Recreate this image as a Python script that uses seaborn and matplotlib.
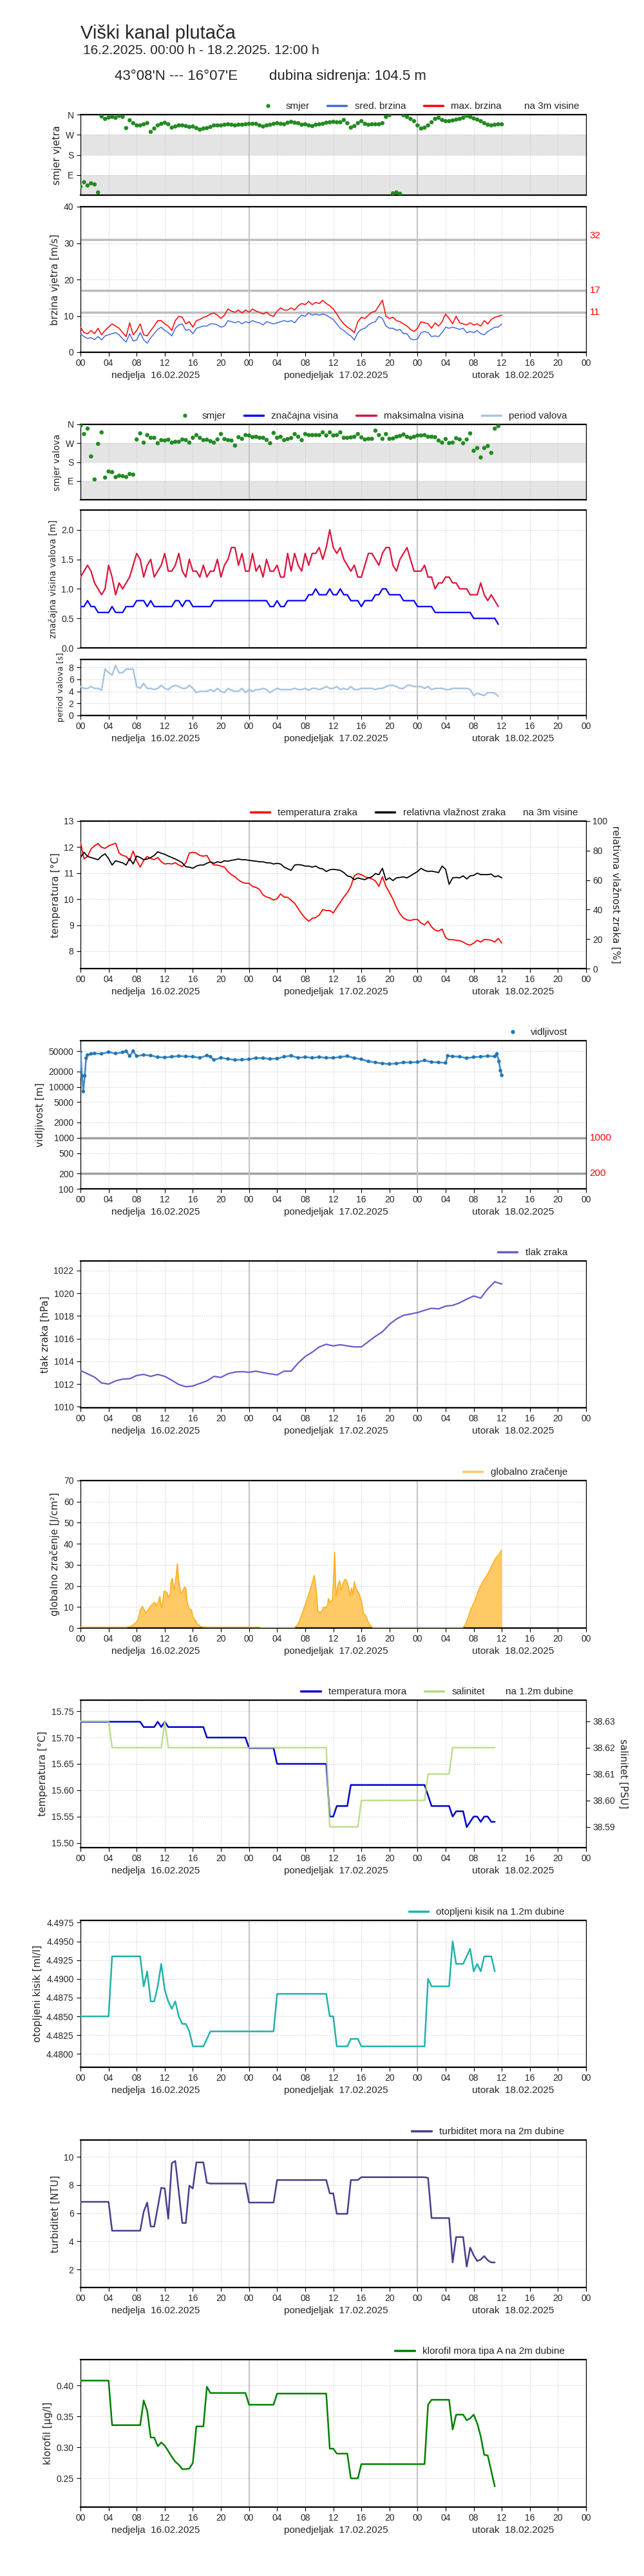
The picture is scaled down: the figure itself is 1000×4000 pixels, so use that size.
import numpy as np
import seaborn as sns
import matplotlib
matplotlib.use('Agg')
import matplotlib.pyplot as plt
from matplotlib.lines import Line2D
from matplotlib.ticker import NullLocator

sns.set_style('white')
plt.rcParams['font.family'] = ['Liberation Sans', 'DejaVu Sans']
plt.rcParams['axes.unicode_minus'] = False

# ---------------- podaci (ocitano s grafa) ----------------
# vjetar, svakih 30 min od 00:00 16.02. do 12:00 18.02.
wind_dir = [38, 58, 43, 53, 48, 12, 352, 341, 347, 350,
            346, 355, 350, 300, 335, 322, 312, 312, 317, 322,
            283, 298, 312, 319, 324, 317, 302, 307, 312, 312,
            309, 305, 307, 300, 293, 298, 300, 305, 312, 312,
            312, 315, 317, 315, 312, 315, 315, 317, 319, 319,
            319, 312, 307, 312, 315, 319, 322, 319, 317, 324,
            328, 324, 322, 315, 317, 312, 309, 315, 317, 319,
            324, 326, 328, 326, 326, 336, 322, 302, 309, 322,
            331, 319, 315, 317, 317, 317, 322, 350, 358, 8,
            12, 6, 357, 350, 341, 331, 312, 298, 302, 312,
            326, 341, 346, 336, 331, 331, 334, 338, 341, 346,
            355, 350, 343, 338, 331, 322, 315, 312, 315, 317,
            317]
wind_mean = [5.1, 4.3, 3.8, 4.0, 3.5, 4.3, 3.4, 4.5, 4.8, 5.1,
             5.4, 4.8, 3.7, 2.8, 5.1, 3.1, 3.4, 5.4, 3.4, 2.5,
             4.0, 5.1, 6.3, 6.9, 6.0, 5.4, 4.5, 6.6, 7.5, 7.8,
             6.0, 6.3, 5.1, 6.6, 6.9, 7.2, 7.2, 7.8, 7.8, 7.5,
             6.9, 7.2, 8.7, 8.4, 8.1, 8.5, 7.8, 8.4, 8.1, 8.7,
             8.3, 8.1, 7.5, 8.4, 8.1, 7.8, 8.1, 8.4, 8.7, 8.4,
             8.7, 8.1, 9.3, 10.2, 9.9, 10.8, 10.2, 10.5, 10.2, 10.5,
             10.2, 9.6, 9.0, 7.8, 6.6, 6.0, 5.1, 4.5, 3.4, 5.4,
             6.3, 6.6, 7.5, 8.1, 8.4, 9.9, 9.3, 7.2, 6.6, 6.6,
             6.0, 6.3, 5.1, 5.1, 3.7, 3.4, 3.7, 5.4, 5.7, 5.4,
             4.3, 4.5, 4.3, 5.4, 6.9, 6.6, 6.9, 6.6, 6.3, 6.6,
             5.4, 5.7, 5.4, 6.0, 5.1, 4.8, 5.7, 6.3, 6.9, 6.9,
             7.8]
wind_max = [6.9, 5.4, 5.1, 6.0, 5.1, 6.6, 4.8, 6.0, 6.9, 7.8,
            7.2, 6.6, 5.4, 4.3, 8.1, 4.8, 6.0, 7.8, 4.8, 4.5,
            6.0, 7.2, 8.7, 8.7, 7.8, 7.2, 6.0, 8.7, 9.9, 9.6,
            7.8, 8.4, 6.9, 8.7, 9.0, 9.6, 9.9, 10.5, 10.8, 10.2,
            9.3, 10.2, 11.9, 11.3, 11.0, 11.6, 10.8, 11.6, 11.0, 11.9,
            11.3, 11.0, 10.5, 11.0, 10.2, 9.9, 11.3, 12.2, 11.6, 11.6,
            12.2, 11.6, 12.8, 13.4, 13.1, 14.0, 13.1, 13.7, 13.4, 14.3,
            13.4, 12.8, 11.9, 10.5, 9.0, 7.8, 6.9, 6.3, 5.4, 8.4,
            9.6, 9.3, 10.2, 11.0, 11.3, 12.8, 14.3, 9.9, 9.3, 9.6,
            8.7, 8.4, 7.8, 7.2, 6.3, 5.7, 6.6, 8.4, 8.1, 7.8,
            6.6, 8.1, 7.2, 8.4, 10.5, 9.3, 7.8, 9.9, 8.1, 7.8,
            7.5, 8.1, 7.5, 7.8, 7.2, 8.7, 7.8, 9.0, 9.6, 9.9,
            10.2]
wind_limits = [31, 17, 11]
wind_limit_labels = [('32', 32), ('17', 17), ('11', 11)]

# valovi, svakih 30 min od 00:00 do 11:30 18.02.
wave_dir = [353, 314, 340, 207, 97, 267, 322, 106, 135, 132,
            108, 115, 113, 109, 123, 120, 288, 317, 273, 309,
            296, 296, 270, 285, 283, 287, 273, 277, 277, 288,
            285, 273, 296, 309, 296, 285, 287, 280, 273, 288,
            314, 290, 285, 283, 259, 299, 291, 309, 307, 299,
            301, 296, 296, 286, 270, 319, 296, 301, 285, 290,
            295, 314, 301, 285, 314, 309, 309, 309, 309, 322,
            307, 322, 307, 309, 322, 296, 296, 298, 301, 314,
            298, 288, 291, 291, 330, 309, 291, 314, 291, 293,
            301, 305, 312, 301, 296, 301, 307, 307, 309, 301,
            301, 299, 283, 273, 290, 271, 273, 294, 288, 270,
            288, 317, 234, 247, 202, 247, 257, 224, 340, 352]
wave_hs = [0.7, 0.7, 0.8, 0.7, 0.7, 0.6, 0.6, 0.6, 0.6, 0.7,
           0.6, 0.6, 0.6, 0.7, 0.7, 0.7, 0.8, 0.8, 0.8, 0.7,
           0.8, 0.7, 0.7, 0.7, 0.7, 0.7, 0.7, 0.8, 0.8, 0.7,
           0.8, 0.8, 0.7, 0.7, 0.7, 0.7, 0.7, 0.7, 0.8, 0.8,
           0.8, 0.8, 0.8, 0.8, 0.8, 0.8, 0.8, 0.8, 0.8, 0.8,
           0.8, 0.8, 0.8, 0.8, 0.7, 0.7, 0.8, 0.7, 0.7, 0.8,
           0.8, 0.8, 0.8, 0.8, 0.8, 0.9, 0.9, 1.0, 0.9, 0.9,
           0.9, 1.0, 0.9, 0.9, 1.0, 0.9, 0.9, 0.8, 0.8, 0.8,
           0.7, 0.8, 0.8, 0.8, 0.9, 0.9, 1.0, 1.0, 0.9, 0.9,
           0.9, 0.9, 0.8, 0.8, 0.8, 0.8, 0.7, 0.7, 0.7, 0.7,
           0.7, 0.6, 0.6, 0.6, 0.6, 0.6, 0.6, 0.6, 0.6, 0.6,
           0.6, 0.6, 0.5, 0.5, 0.5, 0.5, 0.5, 0.5, 0.5, 0.4]
wave_hmax = [1.2, 1.3, 1.4, 1.3, 1.1, 1.0, 0.9, 1.0, 1.4, 1.2,
             0.9, 1.1, 1.0, 1.1, 1.2, 1.4, 1.6, 1.5, 1.2, 1.4,
             1.5, 1.2, 1.3, 1.4, 1.6, 1.3, 1.3, 1.4, 1.6, 1.3,
             1.2, 1.5, 1.3, 1.3, 1.2, 1.4, 1.2, 1.3, 1.3, 1.5,
             1.2, 1.4, 1.5, 1.7, 1.7, 1.4, 1.6, 1.3, 1.3, 1.6,
             1.3, 1.4, 1.2, 1.5, 1.3, 1.3, 1.4, 1.2, 1.2, 1.6,
             1.3, 1.6, 1.4, 1.3, 1.6, 1.4, 1.6, 1.6, 1.7, 1.5,
             1.7, 2.0, 1.7, 1.6, 1.7, 1.5, 1.4, 1.3, 1.4, 1.2,
             1.2, 1.4, 1.6, 1.6, 1.5, 1.4, 1.6, 1.7, 1.7, 1.4,
             1.3, 1.5, 1.6, 1.7, 1.5, 1.3, 1.3, 1.3, 1.4, 1.2,
             1.2, 1.0, 1.1, 1.1, 1.2, 1.2, 1.1, 1.1, 1.0, 1.0,
             1.0, 0.9, 0.9, 0.9, 1.1, 0.9, 0.8, 0.9, 0.8, 0.7]
wave_period = [4.8, 4.5, 4.5, 4.8, 4.5, 4.5, 4.2, 7.7, 7.1, 6.7,
               8.3, 7.1, 7.1, 7.7, 7.7, 7.7, 4.8, 4.5, 5.3, 4.5,
               4.5, 4.3, 4.5, 5.0, 4.5, 4.3, 4.8, 5.0, 4.8, 4.5,
               4.5, 5.0, 4.5, 3.8, 4.0, 4.0, 4.0, 4.3, 4.0, 4.5,
               4.0, 3.8, 4.5, 4.2, 4.0, 4.0, 4.5, 3.8, 4.3, 4.0,
               4.3, 4.3, 4.5, 4.3, 3.8, 4.2, 4.5, 4.3, 4.3, 4.3,
               4.3, 4.5, 4.3, 4.3, 4.5, 4.2, 4.5, 4.5, 4.3, 4.5,
               4.8, 4.5, 4.5, 4.8, 4.3, 4.5, 4.3, 4.8, 4.3, 4.3,
               4.5, 4.5, 4.5, 4.5, 4.3, 4.5, 4.5, 4.8, 5.0, 5.0,
               4.8, 4.5, 4.5, 5.0, 5.0, 4.8, 4.8, 4.8, 4.5, 4.8,
               4.3, 4.5, 4.5, 4.5, 4.3, 4.3, 4.5, 4.5, 4.5, 4.5,
               4.5, 4.3, 3.3, 3.7, 3.5, 3.3, 3.8, 3.8, 3.7, 3.2]

# zrak, svakih 30 min
air_temp = [12.18, 11.55, 11.64, 11.93, 12.05, 12.14, 11.99, 11.95, 12.05, 12.10,
            12.15, 11.77, 11.68, 11.64, 11.48, 11.85, 11.48, 11.23, 11.49, 11.64,
            11.56, 11.52, 11.60, 11.44, 11.35, 11.37, 11.35, 11.40, 11.31, 11.25,
            11.40, 11.77, 11.80, 11.77, 11.68, 11.65, 11.68, 11.44, 11.31, 11.31,
            11.27, 11.23, 11.06, 10.94, 10.86, 10.74, 10.65, 10.61, 10.61, 10.49,
            10.45, 10.37, 10.16, 10.08, 10.04, 9.96, 10.02, 10.20, 10.08, 10.07,
            9.96, 9.84, 9.64, 9.43, 9.27, 9.15, 9.26, 9.29, 9.39, 9.60,
            9.56, 9.56, 9.47, 9.68, 9.88, 10.08, 10.25, 10.49, 10.90, 10.98,
            10.94, 10.86, 10.82, 10.78, 10.70, 10.49, 10.86, 10.49, 10.25, 10.00,
            9.68, 9.43, 9.27, 9.20, 9.18, 9.22, 9.22, 9.08, 9.01, 9.15,
            8.93, 8.81, 8.77, 8.85, 8.52, 8.44, 8.44, 8.42, 8.40, 8.35,
            8.27, 8.23, 8.31, 8.42, 8.35, 8.45, 8.44, 8.42, 8.35, 8.49,
            8.31]
humidity = [75.3, 78.9, 76.0, 75.3, 74.6, 73.8, 76.3, 77.8, 74.6, 70.2,
            73.1, 72.4, 71.7, 70.2, 74.6, 70.9, 76.3, 75.3, 73.8, 74.3,
            75.3, 76.7, 79.2, 78.2, 77.5, 76.3, 75.3, 74.3, 73.1, 71.7,
            69.0, 68.8, 68.0, 69.5, 70.2, 70.2, 71.4, 72.4, 71.4, 72.4,
            71.9, 73.1, 72.8, 73.4, 73.8, 74.3, 73.8, 73.8, 73.4, 73.1,
            72.8, 72.4, 72.4, 71.7, 71.7, 70.9, 71.4, 70.9, 68.8, 67.7,
            66.6, 70.2, 70.5, 70.2, 69.5, 69.5, 68.8, 69.5, 68.0, 67.6,
            65.8, 67.0, 67.3, 67.0, 66.6, 65.1, 62.9, 62.2, 60.3, 61.5,
            60.8, 60.3, 61.5, 62.2, 64.4, 63.7, 68.0, 60.0, 61.5, 59.7,
            61.5, 61.8, 62.2, 61.5, 62.9, 64.4, 65.8, 68.0, 66.6, 65.8,
            66.1, 65.6, 65.1, 69.5, 67.3, 57.1, 61.5, 61.8, 61.5, 62.9,
            60.8, 62.9, 63.2, 64.7, 63.7, 63.7, 63.7, 64.1, 62.2, 62.9,
            61.5]

# vidljivost (nejednoliki koraci)
vis_hours = [0, 0.2, 0.4, 0.6, 0.8, 1, 1.5, 2, 3, 4, 5, 6, 6.5, 7, 7.5, 8, 9, 10,
             11, 12, 13, 14, 15, 16, 17, 18, 18.5, 19, 20, 21, 22, 23, 24, 25, 26,
             27, 28, 29, 30, 31, 32, 33, 34, 35, 36, 37, 38, 39, 40, 41, 42, 43,
             44, 45, 46, 47, 48, 49, 50, 51, 52, 52.3, 53, 54, 55, 56, 57, 58, 59,
             59.3, 59.6, 59.8, 60]
vis_values = [48700, 16400, 8070, 16400, 36400, 42000, 44300, 45000, 44300, 47900,
              45000, 47400, 49800, 40000, 50000, 40000, 42000, 41000, 38200, 37500,
              38900, 40000, 39400, 38900, 37000, 41000, 38900, 33700, 37000, 35200,
              33700, 34000, 34700, 36500, 36500, 35200, 35700, 38900, 40500, 37000,
              38200, 37000, 38200, 37000, 37000, 38200, 40000, 36500, 34700, 31500,
              30000, 28600, 28000, 28600, 30000, 30000, 30500, 33000, 30500, 30000,
              29400, 40500, 39400, 38900, 36500, 38200, 38900, 40000, 39400, 44300,
              31500, 20800, 16700]
vis_limits = [1000, 200]

# tlak, svakih sat vremena
pressure = [1013.18, 1012.90, 1012.60, 1012.09, 1011.99, 1012.27, 1012.43, 1012.46, 1012.75, 1012.84,
            1012.67, 1012.84, 1012.67, 1012.33, 1011.95, 1011.76, 1011.82, 1012.05, 1012.27, 1012.67,
            1012.58, 1012.90, 1013.05, 1013.09, 1013.03, 1013.13, 1013.00, 1012.90, 1012.80, 1013.13,
            1013.13, 1013.85, 1014.42, 1014.80, 1015.27, 1015.50, 1015.36, 1015.46, 1015.36, 1015.27,
            1015.27, 1015.74, 1016.20, 1016.60, 1017.26, 1017.73, 1018.06, 1018.17, 1018.30, 1018.50,
            1018.68, 1018.62, 1018.87, 1018.93, 1019.16, 1019.48, 1019.76, 1019.57, 1020.39, 1021.01,
            1020.82]

# globalno zracenje (nejednoliki koraci)
rad_hours = [0, 6.5, 7, 7.5, 7.9, 8.2, 8.5, 8.8, 9.1, 9.3, 9.7, 10, 10.3, 10.6, 10.8,
             11.1, 11.3, 11.5, 11.6, 11.9, 12.3, 12.5, 12.8, 12.9, 13.1, 13.3, 13.5,
             13.8, 14.0, 14.3, 14.5, 14.8, 15, 15.2, 15.5, 15.8, 16, 16.3, 16.6, 17,
             17.3, 18, 25.5, 26, 30.3, 30.6, 30.9, 31.2, 31.7, 32.3, 32.7, 33, 33.3,
             33.6, 33.8, 34.1, 34.4, 34.6, 34.9, 35.2, 35.3, 35.6, 35.9, 36.0, 36.2,
             36.3, 36.4, 36.7, 36.9, 37.1, 37.3, 37.6, 37.8, 38, 38.2, 38.4, 38.6,
             38.8, 39, 39.2, 39.4, 39.7, 40, 40.2, 40.3, 40.6, 40.9, 41.2, 41.5,
             41.7, 54.2, 54.4, 54.7, 55, 55.6, 56.1, 56.7, 57.3, 57.9, 58.5, 59.1,
             59.7, 60]
rad_values = [0.4, 0.4, 0.6, 1.5, 2.5, 4, 8.5, 10.2, 8.5, 7, 9, 10.5, 11.5, 12.2, 10.5,
              12.5, 15, 10, 9.5, 17.5, 17, 14.5, 16.5, 22, 23.5, 18, 21,
              30.5, 22, 16.5, 17, 19.5, 19, 12, 9, 8.5, 5, 4, 2, 1,
              0.5, 0.4, 0.4, 0, 0, 0.5, 1.5, 3.5, 8, 14, 18, 21.5, 25,
              17, 8, 7.3, 8, 10, 9.5, 11, 14, 12, 14, 21, 36,
              25, 15, 21, 22.5, 18, 20, 23, 23, 21.5, 19, 15, 19,
              16, 22, 19, 18, 16, 13, 9, 7, 6, 3.5, 1.5, 0.5,
              0, 0, 0.2, 1, 3, 9, 12.5, 18, 22, 25, 29, 33,
              35.5, 37]

# more, svakih 30 min od 00:00 do 11:00 18.02.
sea_temp = [15.73, 15.73, 15.73, 15.73, 15.73, 15.73, 15.73, 15.73, 15.73, 15.73,
            15.73, 15.73, 15.73, 15.73, 15.73, 15.73, 15.73, 15.73, 15.72, 15.72,
            15.72, 15.72, 15.73, 15.72, 15.73, 15.72, 15.72, 15.72, 15.72, 15.72,
            15.72, 15.72, 15.72, 15.72, 15.72, 15.72, 15.70, 15.70, 15.70, 15.70,
            15.70, 15.70, 15.70, 15.70, 15.70, 15.70, 15.70, 15.70, 15.68, 15.68,
            15.68, 15.68, 15.68, 15.68, 15.68, 15.68, 15.65, 15.65, 15.65, 15.65,
            15.65, 15.65, 15.65, 15.65, 15.65, 15.65, 15.65, 15.65, 15.65, 15.65,
            15.65, 15.55, 15.55, 15.57, 15.57, 15.57, 15.57, 15.61, 15.61, 15.61,
            15.61, 15.61, 15.61, 15.61, 15.61, 15.61, 15.61, 15.61, 15.61, 15.61,
            15.61, 15.61, 15.61, 15.61, 15.61, 15.61, 15.61, 15.61, 15.61, 15.59,
            15.57, 15.57, 15.57, 15.57, 15.57, 15.57, 15.55, 15.56, 15.56, 15.56,
            15.53, 15.54, 15.55, 15.55, 15.54, 15.55, 15.55, 15.54, 15.54]
salinity = [38.63, 38.63, 38.63, 38.63, 38.63, 38.63, 38.63, 38.63, 38.63, 38.62,
            38.62, 38.62, 38.62, 38.62, 38.62, 38.62, 38.62, 38.62, 38.62, 38.62,
            38.62, 38.62, 38.62, 38.62, 38.63, 38.62, 38.62, 38.62, 38.62, 38.62,
            38.62, 38.62, 38.62, 38.62, 38.62, 38.62, 38.62, 38.62, 38.62, 38.62,
            38.62, 38.62, 38.62, 38.62, 38.62, 38.62, 38.62, 38.62, 38.62, 38.62,
            38.62, 38.62, 38.62, 38.62, 38.62, 38.62, 38.62, 38.62, 38.62, 38.62,
            38.62, 38.62, 38.62, 38.62, 38.62, 38.62, 38.62, 38.62, 38.62, 38.62,
            38.62, 38.59, 38.59, 38.59, 38.59, 38.59, 38.59, 38.59, 38.59, 38.59,
            38.60, 38.60, 38.60, 38.60, 38.60, 38.60, 38.60, 38.60, 38.60, 38.60,
            38.60, 38.60, 38.60, 38.60, 38.60, 38.60, 38.60, 38.60, 38.60, 38.61,
            38.61, 38.61, 38.61, 38.61, 38.61, 38.61, 38.62, 38.62, 38.62, 38.62,
            38.62, 38.62, 38.62, 38.62, 38.62, 38.62, 38.62, 38.62, 38.62]
oxygen = [4.485, 4.485, 4.485, 4.485, 4.485, 4.485, 4.485, 4.485, 4.485, 4.493,
          4.493, 4.493, 4.493, 4.493, 4.493, 4.493, 4.493, 4.493, 4.489, 4.491,
          4.487, 4.487, 4.489, 4.492, 4.4885, 4.487, 4.486, 4.487, 4.485, 4.484,
          4.484, 4.483, 4.481, 4.481, 4.481, 4.481, 4.482, 4.483, 4.483, 4.483,
          4.483, 4.483, 4.483, 4.483, 4.483, 4.483, 4.483, 4.483, 4.483, 4.483,
          4.483, 4.483, 4.483, 4.483, 4.483, 4.483, 4.488, 4.488, 4.488, 4.488,
          4.488, 4.488, 4.488, 4.488, 4.488, 4.488, 4.488, 4.488, 4.488, 4.488,
          4.488, 4.485, 4.485, 4.481, 4.481, 4.481, 4.481, 4.482, 4.482, 4.482,
          4.481, 4.481, 4.481, 4.481, 4.481, 4.481, 4.481, 4.481, 4.481, 4.481,
          4.481, 4.481, 4.481, 4.481, 4.481, 4.481, 4.481, 4.481, 4.481, 4.490,
          4.489, 4.489, 4.489, 4.489, 4.489, 4.489, 4.495, 4.492, 4.492, 4.492,
          4.493, 4.494, 4.491, 4.492, 4.491, 4.493, 4.493, 4.493, 4.491]
turbidity = [6.8, 6.8, 6.8, 6.8, 6.8, 6.8, 6.8, 6.8, 6.8, 4.75,
             4.75, 4.75, 4.75, 4.75, 4.75, 4.75, 4.75, 4.75, 6.1, 6.75,
             5.05, 5.05, 6.4, 7.8, 7.75, 5.6, 9.55, 9.7, 7.5, 5.3,
             5.3, 7.95, 7.75, 9.6, 9.6, 9.6, 8.15, 8.1, 8.1, 8.1,
             8.1, 8.1, 8.1, 8.1, 8.1, 8.1, 8.1, 8.1, 6.75, 6.75,
             6.75, 6.75, 6.75, 6.75, 6.75, 6.75, 8.35, 8.35, 8.35, 8.35,
             8.35, 8.35, 8.35, 8.35, 8.35, 8.35, 8.35, 8.35, 8.35, 8.35,
             8.35, 7.4, 7.4, 5.95, 5.95, 5.95, 5.95, 8.35, 8.35, 8.35,
             8.55, 8.55, 8.55, 8.55, 8.55, 8.55, 8.55, 8.55, 8.55, 8.55,
             8.55, 8.55, 8.55, 8.55, 8.55, 8.55, 8.55, 8.55, 8.55, 8.5,
             5.65, 5.65, 5.65, 5.65, 5.65, 5.65, 2.5, 4.3, 4.3, 4.3,
             2.2, 3.55, 3.0, 2.6, 2.7, 2.95, 2.65, 2.5, 2.5]
chlorophyll = [0.408, 0.408, 0.408, 0.408, 0.408, 0.408, 0.408, 0.408, 0.408, 0.336,
               0.336, 0.336, 0.336, 0.336, 0.336, 0.336, 0.336, 0.336, 0.376, 0.359,
               0.316, 0.316, 0.302, 0.308, 0.303, 0.294, 0.285, 0.277, 0.272, 0.265,
               0.265, 0.266, 0.275, 0.334, 0.334, 0.334, 0.398, 0.388, 0.388, 0.388,
               0.388, 0.388, 0.388, 0.388, 0.388, 0.388, 0.388, 0.388, 0.369, 0.369,
               0.369, 0.369, 0.369, 0.369, 0.369, 0.369, 0.387, 0.387, 0.387, 0.387,
               0.387, 0.387, 0.387, 0.387, 0.387, 0.387, 0.387, 0.387, 0.387, 0.387,
               0.387, 0.298, 0.298, 0.290, 0.290, 0.290, 0.290, 0.250, 0.250, 0.250,
               0.273, 0.273, 0.273, 0.273, 0.273, 0.273, 0.273, 0.273, 0.273, 0.273,
               0.273, 0.273, 0.273, 0.273, 0.273, 0.273, 0.273, 0.273, 0.273, 0.369,
               0.377, 0.377, 0.377, 0.377, 0.377, 0.377, 0.329, 0.353, 0.353, 0.353,
               0.344, 0.347, 0.353, 0.339, 0.318, 0.288, 0.287, 0.262, 0.237]

DAY_LABELS = ['nedjelja  16.02.2025', 'ponedjeljak  17.02.2025', 'utorak  18.02.2025']
DIR_TICKS = [90, 180, 270, 360]
DIR_LABELS = ['E', 'S', 'W', 'N']

t_wind = np.arange(len(wind_dir)) * 0.5
t_wave = np.arange(len(wave_dir)) * 0.5
t_air = np.arange(len(air_temp)) * 0.5
t_pres = np.arange(len(pressure)) * 1.0
t_sea = np.arange(len(sea_temp)) * 0.5

# ---------------- raspored (pikseli) ----------------
W, H = 1000, 4000
LEFT, RIGHT = 125, 910
DAY_POS = [0.149, 0.506, 0.855]


def box(top, bottom):
    return [LEFT / W, 1 - bottom / H, (RIGHT - LEFT) / W, (bottom - top) / H]


def style_axis(ax, labels=True):
    ax.set_xlim(0, 72)
    ax.set_xticks(range(0, 73, 4))
    ax.tick_params(axis='both', which='both', bottom=True, left=True,
                   direction='out', length=4, width=0.8, labelsize=10, color='black')
    if labels:
        ax.set_xticklabels(['%02d' % (h % 24) for h in range(0, 73, 4)])
        for frac, txt in zip(DAY_POS, DAY_LABELS):
            ax.annotate(txt, xy=(frac, 0), xycoords='axes fraction', xytext=(0, -26),
                        textcoords='offset points', ha='center', va='center', fontsize=11)
    else:
        ax.set_xticklabels([])
        ax.tick_params(axis='x', length=0)
    ax.grid(True, ls=':', color='#c8c8c8', lw=0.8)
    for d in (24, 48):
        ax.axvline(d, color='#c4c4c4', lw=1.5, zorder=1)
    for s in ax.spines.values():
        s.set_color('black')
        s.set_linewidth(0.9)
    ax.spines['top'].set_linewidth(1.6)
    ax.spines['bottom'].set_linewidth(1.6)


def ylab(ax, text, size=11, **kw):
    ax.set_ylabel(text, family='DejaVu Sans', fontsize=size, **kw)


def top_legend(ax, handles, labels, right_px, extra=None, extra_px=None):
    h_px = ax.get_position().height * H
    x = (right_px - LEFT) / (RIGHT - LEFT)
    y = 1 + 13 / h_px
    ax.legend(handles, labels, loc='center right', bbox_to_anchor=(x, y),
              ncol=len(handles), frameon=False, fontsize=11, borderaxespad=0,
              borderpad=0, columnspacing=1.8, handletextpad=0.8, handlelength=2)
    if extra:
        ax.annotate(extra, xy=((extra_px - LEFT) / (RIGHT - LEFT), y), xycoords='axes fraction',
                    ha='right', va='center', fontsize=11)


def right_marks(ax, items):
    for txt, val in items:
        ax.annotate(txt, xy=(1, val), xycoords=('axes fraction', 'data'), xytext=(4, 0),
                    textcoords='offset points', color='red', va='center', fontsize=11)


def line_handle(color, lw=2.5):
    return Line2D([], [], color=color, lw=lw)


def dot_handle(color):
    return Line2D([], [], color=color, ls='', marker='o', markersize=3.5)


def direction_axis(ax):
    ax.axhspan(180, 270, color='#e4e4e4', zorder=0, lw=0)
    ax.axhspan(0, 90, color='#e4e4e4', zorder=0, lw=0)
    ax.set_ylim(0, 360)
    ax.set_yticks(DIR_TICKS)
    ax.set_yticklabels(DIR_LABELS)


fig = plt.figure(figsize=(10, 40), dpi=100)

fig.text(LEFT / W, 1 - 60 / H, 'Viški kanal plutača', fontsize=21, va='baseline')
fig.text(129 / W, 1 - 84 / H, '16.2.2025. 00:00 h - 18.2.2025. 12:00 h', fontsize=15, va='baseline')
fig.text(178 / W, 1 - 124 / H, "43°08'N --- 16°07'E", fontsize=16, va='baseline')
fig.text(418 / W, 1 - 124 / H, 'dubina sidrenja: 104.5 m', fontsize=16, va='baseline')

# 1. smjer vjetra
ax = fig.add_axes(box(178, 303))
direction_axis(ax)
sns.scatterplot(x=t_wind, y=wind_dir, ax=ax, color='forestgreen', s=22, edgecolor='none',
                legend=False, zorder=3)
style_axis(ax, labels=False)
ylab(ax, 'smjer vjetra')
top_legend(ax, [dot_handle('forestgreen'), line_handle('royalblue'), line_handle('red')],
           ['smjer', 'sred. brzina', 'max. brzina'], 779, 'na 3m visine', 899)

# 2. brzina vjetra
ax = fig.add_axes(box(321, 547))
for lim in wind_limits:
    ax.axhline(lim, color='#bdbdbd', lw=2.5, zorder=1)
sns.lineplot(x=t_wind, y=wind_mean, ax=ax, color='royalblue', lw=1.1, zorder=3)
sns.lineplot(x=t_wind, y=wind_max, ax=ax, color='red', lw=1.1, zorder=3)
ax.set_ylim(0, 40)
ax.set_yticks(range(0, 41, 10))
style_axis(ax)
ylab(ax, 'brzina vjetra [m/s]')
right_marks(ax, wind_limit_labels)

# 3. smjer valova
ax = fig.add_axes(box(659, 776))
direction_axis(ax)
sns.scatterplot(x=t_wave, y=wave_dir, ax=ax, color='forestgreen', s=22, edgecolor='none',
                legend=False, zorder=3)
style_axis(ax, labels=False)
ylab(ax, 'smjer valova', size=9.8)
top_legend(ax, [dot_handle('forestgreen'), line_handle('blue'), line_handle('crimson'),
                line_handle('#a8c4e0')],
           ['smjer', 'značajna visina', 'maksimalna visina', 'period valova'], 881)

# 4. visina valova
ax = fig.add_axes(box(792, 1006))
sns.lineplot(x=t_wave, y=wave_hs, ax=ax, color='blue', lw=1.6, zorder=3)
sns.lineplot(x=t_wave, y=wave_hmax, ax=ax, color='crimson', lw=1.6, zorder=3)
ax.set_ylim(0, 2.335)
ax.set_yticks([0.0, 0.5, 1.0, 1.5, 2.0])
ax.set_yticklabels(['%.1f' % v for v in [0.0, 0.5, 1.0, 1.5, 2.0]])
style_axis(ax, labels=False)
ylab(ax, 'značajna visina valova [m]', size=9.8)

# 5. period valova
ax = fig.add_axes(box(1024, 1111))
sns.lineplot(x=t_wave, y=wave_period, ax=ax, color='#a8c4e0', lw=1.8, zorder=3)
ax.set_ylim(0, 9.3)
ax.set_yticks([0, 2, 4, 6, 8])
style_axis(ax)
ylab(ax, 'period valova [s]', size=9.2)

# 6. temperatura i vlaznost zraka
ax = fig.add_axes(box(1275, 1504))
sns.lineplot(x=t_air, y=air_temp, ax=ax, color='red', lw=1.3, zorder=3)
ax.set_ylim(7.33, 13)
ax.set_yticks(range(8, 14))
style_axis(ax)
ylab(ax, 'temperatura [°C]')
ax2 = ax.twinx()
sns.lineplot(x=t_air, y=humidity, ax=ax2, color='black', lw=1.3, zorder=3)
ax2.set_ylim(0, 100)
ax2.set_yticks(range(0, 101, 20))
ax2.tick_params(axis='y', right=True, direction='out', length=4, labelsize=10, color='black')
ax2.grid(False)
ax2.set_ylabel('relativna vlažnost zraka [%]', family='DejaVu Sans', fontsize=11,
               rotation=270, labelpad=14)
for s in ax2.spines.values():
    s.set_visible(False)
top_legend(ax, [line_handle('red'), line_handle('black')],
           ['temperatura zraka', 'relativna vlažnost zraka'], 785, 'na 3m visine', 897)

# 7. vidljivost
ax = fig.add_axes(box(1616, 1846))
ax.set_yscale('log')
for lim in vis_limits:
    ax.axhline(lim, color='#a0a0a0', lw=2.5, zorder=1)
sns.lineplot(x=vis_hours, y=vis_values, ax=ax, color='#4b8fc6', lw=2.0, zorder=3)
sns.scatterplot(x=vis_hours, y=vis_values, ax=ax, color='#1f77b4', s=16, edgecolor='none',
                legend=False, zorder=4)
ax.set_ylim(100, 80000)
vis_ticks = [100, 200, 500, 1000, 2000, 5000, 10000, 20000, 50000]
ax.set_yticks(vis_ticks)
ax.set_yticklabels([str(v) for v in vis_ticks])
ax.yaxis.set_minor_locator(NullLocator())
style_axis(ax)
ylab(ax, 'vidljivost [m]')
right_marks(ax, [(str(v), v) for v in vis_limits])
top_legend(ax, [dot_handle('#1f77b4')], ['vidljivost'], 881)

# 8. tlak zraka
ax = fig.add_axes(box(1958, 2186))
sns.lineplot(x=t_pres, y=pressure, ax=ax, color='slateblue', lw=1.6, zorder=3)
ax.set_ylim(1009.9, 1022.85)
ax.set_yticks(range(1010, 1023, 2))
style_axis(ax)
ylab(ax, 'tlak zraka [hPa]')
top_legend(ax, [line_handle('slateblue')], ['tlak zraka'], 881)

# 9. globalno zracenje
ax = fig.add_axes(box(2299, 2528))
ax.fill_between(rad_hours, rad_values, color='#ffc966', lw=0, zorder=2)
sns.lineplot(x=rad_hours, y=rad_values, ax=ax, color='#ffae1a', lw=1.2, zorder=3)
ax.set_ylim(0, 70)
ax.set_yticks(range(0, 71, 10))
style_axis(ax)
ylab(ax, 'globalno zračenje [J/cm²]')
top_legend(ax, [line_handle('#ffc966')], ['globalno zračenje'], 881)

# 10. temperatura mora i salinitet
ax = fig.add_axes(box(2640, 2869))
sns.lineplot(x=t_sea, y=sea_temp, ax=ax, color='mediumblue', lw=1.8, zorder=3)
ax.set_ylim(15.491, 15.771)
st_ticks = [15.50, 15.55, 15.60, 15.65, 15.70, 15.75]
ax.set_yticks(st_ticks)
ax.set_yticklabels(['%.2f' % v for v in st_ticks])
style_axis(ax)
ylab(ax, 'temperatura [°C]')
ax2 = ax.twinx()
sns.lineplot(x=t_sea, y=salinity, ax=ax2, color='#b3da7c', lw=1.8, alpha=0.85, zorder=3)
ax2.set_ylim(38.5821, 38.638)
sal_ticks = [38.59, 38.60, 38.61, 38.62, 38.63]
ax2.set_yticks(sal_ticks)
ax2.set_yticklabels(['%.2f' % v for v in sal_ticks])
ax2.tick_params(axis='y', right=True, direction='out', length=4, labelsize=10, color='black')
ax2.grid(False)
ax2.set_ylabel('salinitet [PSU]', family='DejaVu Sans', fontsize=11, rotation=270, labelpad=14)
for s in ax2.spines.values():
    s.set_visible(False)
top_legend(ax, [line_handle('mediumblue'), line_handle('#b3da7c')],
           ['temperatura mora', 'salinitet'], 753, 'na 1.2m dubine', 890)

# 11. otopljeni kisik
ax = fig.add_axes(box(2982, 3210))
sns.lineplot(x=t_sea, y=oxygen, ax=ax, color='lightseagreen', lw=1.8, zorder=3)
ax.set_ylim(4.47822, 4.49779)
ox_ticks = [4.4800, 4.4825, 4.4850, 4.4875, 4.4900, 4.4925, 4.4950, 4.4975]
ax.set_yticks(ox_ticks)
ax.set_yticklabels(['%.4f' % v for v in ox_ticks])
style_axis(ax)
ylab(ax, 'otopljeni kisik [ml/l]')
top_legend(ax, [line_handle('lightseagreen')], ['otopljeni kisik na 1.2m dubine'], 877)

# 12. turbiditet
ax = fig.add_axes(box(3323, 3552))
sns.lineplot(x=t_sea, y=turbidity, ax=ax, color='darkslateblue', lw=1.8, zorder=3)
ax.set_ylim(0.72, 11.19)
ax.set_yticks([2, 4, 6, 8, 10])
style_axis(ax)
ylab(ax, 'turbiditet [NTU]')
top_legend(ax, [line_handle('darkslateblue')], ['turbiditet mora na 2m dubine'], 876)

# 13. klorofil
ax = fig.add_axes(box(3664, 3893))
sns.lineplot(x=t_sea, y=chlorophyll, ax=ax, color='green', lw=1.8, zorder=3)
ax.set_ylim(0.2036, 0.4419)
chl_ticks = [0.25, 0.30, 0.35, 0.40]
ax.set_yticks(chl_ticks)
ax.set_yticklabels(['%.2f' % v for v in chl_ticks])
style_axis(ax)
ylab(ax, 'klorofil [µg/l]')
top_legend(ax, [line_handle('green')], ['klorofil mora tipa A na 2m dubine'], 877)

fig.savefig('out.png', dpi=100)
